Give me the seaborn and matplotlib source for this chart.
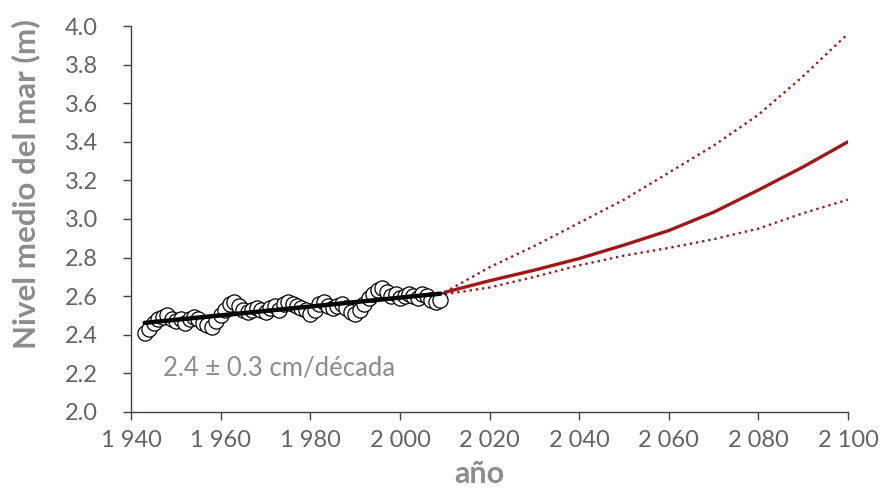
import numpy as np
import pandas as pd
import seaborn as sns
from matplotlib import pyplot as plt

# serie observada (nivel medio anual, m)
anios_obs = list(range(1943, 2010))
nivel_obs = [2.41, 2.43, 2.46, 2.48, 2.49, 2.50, 2.48, 2.47, 2.48, 2.46,
             2.48, 2.49, 2.48, 2.46, 2.45, 2.44, 2.47, 2.50, 2.53, 2.56,
             2.57, 2.55, 2.53, 2.52, 2.53, 2.54, 2.53, 2.52, 2.54, 2.55,
             2.53, 2.56, 2.57, 2.56, 2.55, 2.54, 2.53, 2.51, 2.53, 2.56,
             2.57, 2.55, 2.54, 2.55, 2.56, 2.54, 2.52, 2.51, 2.53, 2.56,
             2.59, 2.61, 2.63, 2.64, 2.62, 2.60, 2.61, 2.59, 2.60, 2.61,
             2.60, 2.59, 2.61, 2.60, 2.58, 2.57, 2.58]

# proyección
anios_proy = [2010, 2020, 2030, 2040, 2050, 2060, 2070, 2080, 2090, 2100]
nivel_medio = [2.62, 2.68, 2.735, 2.795, 2.865, 2.94, 3.035, 3.15, 3.27, 3.40]
nivel_alto = [2.62, 2.75, 2.86, 2.98, 3.10, 3.24, 3.38, 3.54, 3.74, 3.96]
nivel_bajo = [2.61, 2.645, 2.70, 2.76, 2.81, 2.85, 2.895, 2.95, 3.03, 3.10]

x_ticks = [1940, 1960, 1980, 2000, 2020, 2040, 2060, 2080, 2100]
x_labels = ['1 940', '1 960', '1 980', '2 000', '2 020', '2 040', '2 060', '2 080', '2 100']
y_ticks = [2.0, 2.2, 2.4, 2.6, 2.8, 3.0, 3.2, 3.4, 3.6, 3.8, 4.0]

obs = pd.DataFrame({'anio': anios_obs, 'nivel': nivel_obs})
proy = pd.DataFrame({'anio': anios_proy, 'medio': nivel_medio,
                     'alto': nivel_alto, 'bajo': nivel_bajo})

sns.set_style('white')
plt.rcParams['font.family'] = ['Lato', 'DejaVu Sans']

fig, ax = plt.subplots(figsize=(8.81, 4.91), dpi=100)
fig.subplots_adjust(left=0.149, right=0.9625, top=0.947, bottom=0.161)

rojo = '#a01818'
sns.lineplot(data=proy, x='anio', y='alto', color=rojo, lw=1.7, ls=':', ax=ax)
sns.lineplot(data=proy, x='anio', y='bajo', color=rojo, lw=1.7, ls=':', ax=ax)
sns.lineplot(data=proy, x='anio', y='medio', color=rojo, lw=2.4, ax=ax)

sns.scatterplot(data=obs, x='anio', y='nivel', s=120, facecolor='white',
                edgecolor='black', linewidth=0.9, ax=ax, zorder=3)
sns.regplot(data=obs, x='anio', y='nivel', scatter=False, ci=None,
            color='black', line_kws={'lw': 3.2, 'zorder': 4}, ax=ax)

ax.text(1947, 2.23, '2.4 ± 0.3 cm/década', color='#8c8c8c', fontsize=18.5,
        va='center')

ax.set_xlim(1940, 2100)
ax.set_ylim(2.0, 4.0)
ax.set_xticks(x_ticks)
ax.set_xticklabels(x_labels)
ax.set_yticks(y_ticks)
ax.set_yticklabels([f'{v:.1f}' for v in y_ticks])

ax.tick_params(axis='both', direction='out', length=6, width=1,
               color='#404050', labelcolor='#646464', labelsize=17,
               bottom=True, left=True)
ax.tick_params(axis='x', pad=7)
ax.tick_params(axis='y', pad=18)
for lado in ['top', 'right']:
    ax.spines[lado].set_visible(False)
for lado in ['left', 'bottom']:
    ax.spines[lado].set_color('#404050')
    ax.spines[lado].set_linewidth(1)

ax.set_xlabel('año', fontsize=22, fontweight='bold', color='#8c8c8c')
ax.set_ylabel('Nivel medio del mar (m)', fontsize=22.5, fontweight='bold',
              color='#8c8c8c')
ax.xaxis.set_label_coords(0.485, -0.125)
ax.yaxis.set_label_coords(-0.127, 0.59)

plt.savefig('out.png', dpi=100)
